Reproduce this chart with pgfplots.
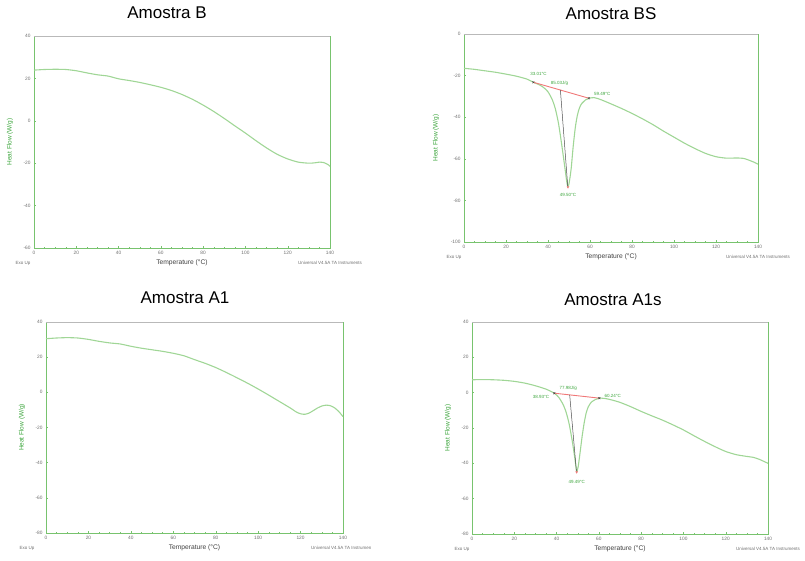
\documentclass[border=0pt]{standalone}
\usepackage{pgfplots}
\pgfplotsset{compat=1.18}
\usepackage{fontspec}
\setmainfont{Liberation Sans}

\definecolor{curve}{RGB}{160,214,150}
\definecolor{axgreen}{RGB}{120,195,110}
\definecolor{lblgreen}{RGB}{60,165,60}
\definecolor{basered}{RGB}{240,120,120}
\definecolor{tickgray}{RGB}{110,110,110}

\newcommand{\smallfont}{\fontsize{4.5}{5}\selectfont}
\newcommand{\titlefont}{\fontsize{17}{20}\selectfont}

\pgfplotsset{
  dsc/.style={
    scale only axis,
    clip=false,
    xmin=0, xmax=140, xtick={0,20,...,140},
    minor x tick num=3, minor y tick num=3,
    xtick pos=lower, ytick pos=left,
    tick align=inside,
    major tick length=2.2pt, minor tick length=1.4pt,
    axis line style={axgreen, line width=0.6pt},
    tick style={axgreen, line width=0.4pt},
    ticklabel style={font=\fontsize{4.8}{5.5}\selectfont, text=tickgray},
    /pgf/number format/assume math mode=true,
    xlabel={Temperature (°C)},
    xlabel style={at={(axis description cs:0.5,0)}, anchor=center, yshift=-15pt,
      font=\fontsize{6.7}{8}\selectfont, text=black!75},
    ylabel={Heat Flow (W/g)},
    ylabel style={at={(axis description cs:0,0.5)}, anchor=center, yshift=24pt,
      font=\fontsize{6.5}{8}\selectfont, text=lblgreen},
  },
  dscline/.style={curve, line width=1.1pt, smooth, tension=0.4},
}

% frame extras: grey upper border and instrument footer
\newcommand{\frameextras}[1]{%
  \draw[gray!55, line width=0.6pt] (rel axis cs:0,1) -- (rel axis cs:1,1);
  \node[anchor=west, font=\smallfont, text=tickgray, xshift=#1, yshift=-15pt]
    at (rel axis cs:0,0) {Exo Up};
  \node[anchor=center, font=\smallfont, text=tickgray, yshift=-15pt]
    at (rel axis cs:1,0) {Universal V4.5A TA Instruments};
}

\begin{document}
\begin{tikzpicture}
\useasboundingbox (0pt,0pt) rectangle (805pt,561pt);

% ---------- titles ----------
\node[font=\titlefont] at (167pt,548pt) {Amostra B};
\node[font=\titlefont] at (611pt,547pt) {Amostra BS};
\node[font=\titlefont] at (185pt,263pt) {Amostra A1};
\node[font=\titlefont] at (613pt,261pt) {Amostra A1s};

% ---------- Amostra B ----------
\begin{axis}[dsc, at={(34pt,525pt)}, anchor=north west, width=296pt, height=212pt,
  ymin=-60, ymax=40, ytick={-60,-40,...,40}]
\addplot[dscline] coordinates {
 (0,23.9)(5,24.2)(10,24.3)(15,24.2)(20,23.6)(25,22.6)(30,21.7)(35,21.1)
 (40,19.8)(45,19.0)(50,18.1)(55,17.0)(60,15.8)(65,14.3)(70,12.4)(75,10.1)
 (80,7.4)(85,4.4)(90,1.1)(95,-2.4)(100,-5.8)(105,-9.4)(110,-12.8)(115,-15.8)
 (120,-18.0)(125,-19.5)(130,-20.0)(133,-19.8)(135,-19.5)(137,-19.7)(139,-20.6)(140,-21.5)
};
\frameextras{-22pt}
\end{axis}

% ---------- Amostra BS ----------
\begin{axis}[dsc, at={(464pt,527pt)}, anchor=north west, width=294pt, height=208pt,
  ymin=-100, ymax=0, ytick={-100,-80,...,0},
  ylabel style={yshift=4pt}]
\addplot[dscline] coordinates {
 (0,-16.5)(5,-17.0)(10,-17.7)(15,-18.4)(20,-19.3)(25,-20.3)(30,-21.7)(33,-23.2)
 (36,-24.5)(38,-25.8)(40,-27.8)(42,-31.5)(43.5,-36)(45,-43)(46.5,-53)(48,-64)
 (49,-71.5)(49.5,-73.3)(50,-72)(51,-65)(52,-54)(53,-45)(54,-39)(55,-35.5)
 (56,-33.5)(58,-31.6)(59.5,-30.9)(62,-30.6)(65,-31.5)(70,-33.6)(75,-35.8)
 (80,-38.2)(85,-40.8)(90,-43.6)(95,-46.7)(100,-49.6)(105,-52.5)(110,-55.1)
 (115,-57.4)(120,-59.0)(125,-59.7)(130,-59.6)(133,-59.8)(135,-60.4)(138,-61.6)(140,-62.6)
};
% integration baseline and peak drop line
\addplot[basered, line width=0.9pt] coordinates {(33.01,-23.2)(59.49,-30.9)};
\addplot[black!70, line width=0.5pt] coordinates {(45.9,-26.9)(49.4,-73.2)};
\addplot[only marks, mark=x, mark size=1.4pt, black!75] coordinates {(33.01,-23.2)(59.49,-30.9)};
\addplot[only marks, mark=triangle*, mark size=1.1pt, basered, mark options={rotate=180}] coordinates {(49.5,-73.6)};
\node[font=\smallfont, text=lblgreen] at (axis cs:35.5,-19) {33.01°C};
\node[font=\smallfont, text=lblgreen] at (axis cs:45.5,-23.7) {85.03J/g};
\node[font=\smallfont, text=lblgreen, anchor=west] at (axis cs:60.3,-29) {59.49°C};
\node[font=\smallfont, text=lblgreen] at (axis cs:49.5,-77.5) {49.50°C};
\frameextras{-21pt}
\end{axis}

% ---------- Amostra A1 ----------
\begin{scope}
\clip (0pt,0pt) rectangle (370pt,290pt);
\begin{axis}[dsc, at={(46pt,239pt)}, anchor=north west, width=297pt, height=211pt,
  ymin=-80, ymax=40, ytick={-80,-60,...,40}]
\addplot[dscline] coordinates {
 (0,30.5)(5,30.9)(10,31.1)(15,30.9)(20,30.1)(25,29.0)(30,28.1)(35,27.5)
 (40,26.2)(45,25.1)(50,24.2)(55,23.3)(60,22.2)(65,20.8)(70,18.6)(75,16.5)
 (80,14.1)(85,11.3)(90,8.3)(95,5.2)(100,1.9)(105,-1.6)(110,-5.2)(115,-8.8)
 (118,-11.2)(120,-12.2)(122,-12.5)(124,-11.8)(126,-10.4)(128,-8.9)(130,-7.8)
 (132,-7.3)(134,-7.6)(136,-8.8)(138,-10.9)(140,-13.8)
};
\frameextras{-30pt}
\end{axis}
\end{scope}

% ---------- Amostra A1s ----------
\begin{axis}[dsc, at={(472pt,239pt)}, anchor=north west, width=296pt, height=212pt,
  ymin=-80, ymax=40, ytick={-80,-60,...,40}]
\addplot[dscline] coordinates {
 (0,7.3)(5,7.4)(10,7.3)(15,7.0)(20,6.4)(25,5.4)(30,3.9)(35,2.0)(38.9,-0.3)
 (41,-2.6)(43,-6.5)(44.5,-11)(46,-18)(47.5,-28)(48.8,-38.5)(49.5,-44.7)
 (50.2,-42)(51,-35)(52,-25.5)(53,-17.5)(54,-11.5)(55,-8)(56.5,-5.3)(58.5,-3.8)
 (60.2,-3.1)(63,-3.3)(66,-4.1)(70,-5.5)(75,-7.9)(80,-10.6)(85,-13.1)(90,-15.5)
 (95,-18.2)(100,-21.1)(105,-24.4)(110,-27.6)(115,-30.6)(120,-33.3)(125,-35.1)
 (130,-36.1)(133,-36.6)(136,-37.8)(140,-40)
};
\addplot[basered, line width=0.9pt] coordinates {(38.93,-0.3)(60.24,-3.1)};
\addplot[black!70, line width=0.5pt] coordinates {(46.2,-1.3)(49.4,-44.6)};
\addplot[only marks, mark=x, mark size=1.4pt, black!75] coordinates {(38.93,-0.3)(60.24,-3.1)};
\addplot[only marks, mark=triangle*, mark size=1.1pt, basered, mark options={rotate=180}] coordinates {(49.5,-45.0)};
\node[font=\smallfont, text=lblgreen, anchor=east] at (axis cs:38.2,-2.4) {38.93°C};
\node[font=\smallfont, text=lblgreen] at (axis cs:45.5,2.4) {77.98J/g};
\node[font=\smallfont, text=lblgreen, anchor=west] at (axis cs:61,-1.6) {60.24°C};
\node[font=\smallfont, text=lblgreen] at (axis cs:49.5,-50.5) {49.49°C};
\frameextras{-21pt}
\end{axis}
\end{tikzpicture}
\end{document}
